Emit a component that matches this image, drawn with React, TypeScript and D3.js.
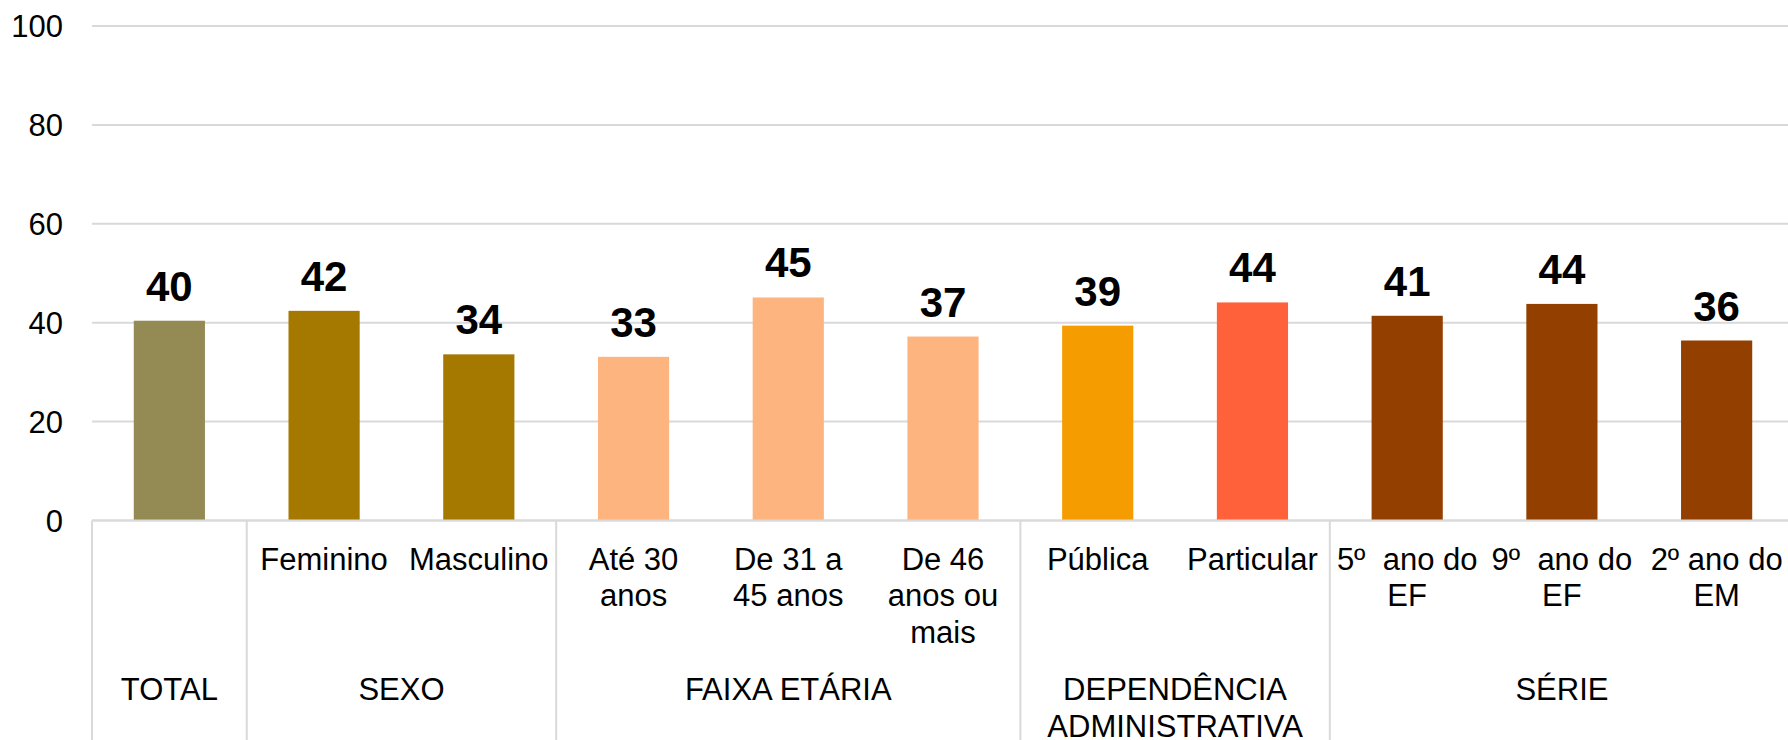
import React from "react";
import * as d3 from "d3";

const categories = [
  "",
  "Feminino",
  "Masculino",
  "Até 30\nanos",
  "De 31 a\n45 anos",
  "De 46\nanos ou\nmais",
  "Pública",
  "Particular",
  "5º  ano do\nEF",
  "9º  ano do\nEF",
  "2º ano do\nEM",
];
const values = [40.4, 42.4, 33.6, 33.1, 45.1, 37.2, 39.4, 44.1, 41.4, 43.8, 36.4];
const barColors = [
  "#948A54",
  "#A57800",
  "#A57800",
  "#FEB47E",
  "#FEB47E",
  "#FEB47E",
  "#F59D00",
  "#FF623A",
  "#923F00",
  "#923F00",
  "#923F00",
];
const groupNames = ["TOTAL", "SEXO", "FAIXA ETÁRIA", "DEPENDÊNCIA\nADMINISTRATIVA", "SÉRIE"];
const groupSizes = [1, 2, 3, 2, 3];
const yTicks = [0, 20, 40, 60, 80, 100];

const W = 1788;
const H = 740;
const FONT = "'Liberation Sans', Arial, sans-serif";

export default function App() {
  const left = 92;
  const right = 1794;
  const top = 26;
  const base = 520.5;

  const x = d3
    .scaleBand<number>()
    .domain(d3.range(categories.length))
    .range([left, right]);
  const y = d3.scaleLinear().domain([0, 100]).range([base, top]);
  const barW = x.bandwidth() * 0.46;
  const fmt = d3.format(".0f");

  // group boundaries in category index units
  const starts = Array.from(d3.cumsum([0, ...groupSizes]));

  return (
    <svg
      width={W}
      height={H}
      style={{ position: "absolute", left: 0, top: 0, background: "#fff" }}
      fontFamily={FONT}
    >
      {yTicks.map((t) => (
        <g key={t}>
          <line x1={left} x2={right} y1={y(t)} y2={y(t)} stroke="#d9d9d9" strokeWidth={2} />
          <text x={63} y={y(t)} dy="0.36em" textAnchor="end" fontSize={31} fill="#000">
            {t}
          </text>
        </g>
      ))}

      {values.map((v, i) => (
        <rect
          key={i}
          x={(x(i) as number) + (x.bandwidth() - barW) / 2}
          y={y(v)}
          width={barW}
          height={base - y(v)}
          fill={barColors[i]}
        />
      ))}

      {values.map((v, i) => (
        <text
          key={i}
          x={(x(i) as number) + x.bandwidth() / 2}
          y={y(v) - 20}
          textAnchor="middle"
          fontSize={42}
          fontWeight="bold"
          fill="#000"
        >
          {fmt(v)}
        </text>
      ))}

      {/* category table */}
      <line x1={left} x2={right} y1={base} y2={base} stroke="#d9d9d9" strokeWidth={2} />
      {groupNames.map((g, gi) => {
        const gx0 = left + starts[gi] * x.step();
        const gx1 = left + starts[gi + 1] * x.step();
        const cx = (gx0 + gx1) / 2;
        return (
          <g key={gi}>
            <line x1={gx0} x2={gx0} y1={base} y2={H + 10} stroke="#d9d9d9" strokeWidth={2} />
            <text x={cx} y={700} textAnchor="middle" fontSize={31} fill="#000">
              {g.split("\n").map((ln, li) => (
                <tspan key={li} x={cx} dy={li === 0 ? 0 : 36.5}>
                  {ln}
                </tspan>
              ))}
            </text>
          </g>
        );
      })}

      {categories.map((c, i) => (
        <text
          key={i}
          x={(x(i) as number) + x.bandwidth() / 2}
          y={570}
          textAnchor="middle"
          fontSize={31}
          fill="#000"
          style={{ whiteSpace: "pre" }}
        >
          {c.split("\n").map((ln, li) => (
            <tspan key={li} x={(x(i) as number) + x.bandwidth() / 2} dy={li === 0 ? 0 : 36.3}>
              {ln}
            </tspan>
          ))}
        </text>
      ))}
    </svg>
  );
}
